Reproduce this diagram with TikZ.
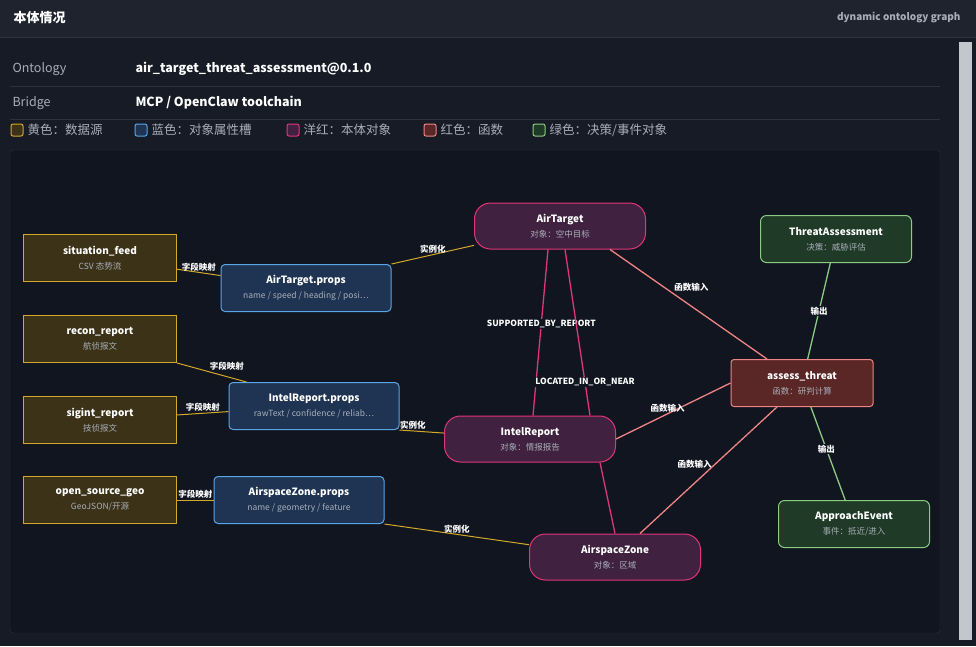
\documentclass[tikz,border=0pt]{standalone}
\usepackage{fontspec}
\setmainfont{Noto Sans CJK SC}
\usetikzlibrary{positioning}
\definecolor{barbg}{HTML}{1F232E}
\definecolor{bodybg}{HTML}{161B25}
\definecolor{canvasbg}{HTML}{10151F}
\definecolor{rulec}{HTML}{2C3240}
\definecolor{txtgray}{HTML}{A8AEB8}
\definecolor{ylwfill}{HTML}{3B3218}
\definecolor{ylwline}{HTML}{D4A82A}
\definecolor{blufill}{HTML}{1F3452}
\definecolor{bluline}{HTML}{5AA5E6}
\definecolor{magfill}{HTML}{40213F}
\definecolor{magline}{HTML}{E0357A}
\definecolor{redfill}{HTML}{5A2626}
\definecolor{redline}{HTML}{F08484}
\definecolor{grnfill}{HTML}{1F3A27}
\definecolor{grnline}{HTML}{8CCB84}
\tikzset{
  box/.style={draw, line width=1pt, minimum height=47pt, align=center, inner sep=0pt, font=\fontsize{10}{14}\selectfont\bfseries, text=white},
  srcbox/.style={box, fill=ylwfill, draw=ylwline, minimum width=153pt},
  propbox/.style={box, fill=blufill, draw=bluline, minimum width=170pt, rounded corners=4pt},
  objbox/.style={box, fill=magfill, draw=magline, minimum width=171pt, minimum height=46pt, rounded corners=16pt},
  fnbox/.style={box, fill=redfill, draw=redline, minimum width=142pt, rounded corners=3pt},
  decbox/.style={box, fill=grnfill, draw=grnline, minimum width=151pt, rounded corners=6pt},
  lbl/.style={font=\fontsize{8.5}{10}\selectfont\bfseries, text=white, inner sep=1pt},
  legtxt/.style={text=txtgray, font=\fontsize{12.5}{14}\selectfont, inner sep=1pt},
  yedge/.style={draw=ylwline, line width=1pt},
  medge/.style={draw=magline, line width=1.3pt},
  redge/.style={draw=redline, line width=1.3pt},
  gedge/.style={draw=grnline, line width=1.3pt},
  legsq/.style={draw, line width=1pt, rounded corners=2pt, minimum width=12pt, minimum height=12pt, inner sep=0pt}
}
\newcommand{\subline}[1]{\textcolor{txtgray}{\mdseries\fontsize{8.5}{10}\selectfont #1}}
\begin{document}
\begin{tikzpicture}[x=1pt,y=-1pt]
	% Frame
	\useasboundingbox (0,0) rectangle (976,646);
	\fill[bodybg] (0,0) rectangle (976,646);
	\fill[barbg] (0,0) rectangle (976,37);
	\draw[rulec] (0,37) -- (976,37);
	\fill[txtgray!70] (959,42) rectangle (972,640);
	\node[anchor=west, text=white, font=\fontsize{13}{15}\selectfont\bfseries] (title) at (10,18) {本体情况};
	\node[anchor=east, text=txtgray, font=\fontsize{10}{12}\selectfont\bfseries] (subtitle) at (964,18) {dynamic ontology graph};
	% Info rows
	\node[anchor=west, text=txtgray, font=\fontsize{12.5}{14}\selectfont] (ontk) at (9,69) {Ontology};
	\node[anchor=west, text=white, font=\fontsize{12.5}{14}\selectfont\bfseries] (ontv) at (132,69) {air\_target\_threat\_assessment@0.1.0};
	\draw[rulec] (10,86) -- (940,86);
	\node[anchor=west, text=txtgray, font=\fontsize{12.5}{14}\selectfont] (brk) at (9,103) {Bridge};
	\node[anchor=west, text=white, font=\fontsize{12.5}{14}\selectfont\bfseries] (brv) at (132,103) {MCP / OpenClaw toolchain};
	\draw[rulec] (10,119) -- (940,119);
	% Legend
	\node[legsq, fill=ylwfill, draw=ylwline] (lg1) at (17,130) {};
	\node[legtxt, right=3pt of lg1] (lt1) {黄色：数据源};
	\node[legsq, fill=blufill, draw=bluline] (lg2) at (141,130) {};
	\node[legtxt, right=3pt of lg2] (lt2) {蓝色：对象属性槽};
	\node[legsq, fill=magfill, draw=magline] (lg3) at (293,130) {};
	\node[legtxt, right=3pt of lg3] (lt3) {洋红：本体对象};
	\node[legsq, fill=redfill, draw=redline] (lg4) at (430,130) {};
	\node[legtxt, right=3pt of lg4] (lt4) {红色：函数};
	\node[legsq, fill=grnfill, draw=grnline] (lg5) at (539,130) {};
	\node[legtxt, right=3pt of lg5] (lt5) {绿色：决策/事件对象};
	% Canvas
	\filldraw[fill=canvasbg, draw=rulec, rounded corners=3pt] (10,150) rectangle (940,633);
	% Sources
	\node[srcbox] (feed) at (100,258) {situation\_feed\\[1pt]\subline{CSV 态势流}};
	\node[srcbox] (recon) at (100,339) {recon\_report\\[1pt]\subline{航侦报文}};
	\node[srcbox] (sigint) at (100,420) {sigint\_report\\[1pt]\subline{技侦报文}};
	\node[srcbox] (osgeo) at (100,500) {open\_source\_geo\\[1pt]\subline{GeoJSON/开源}};
	% Property slots
	\node[propbox] (atprops) at (306,288) {AirTarget.props\\[1pt]\subline{name / speed / heading / posi…}};
	\node[propbox] (irprops) at (314,406) {IntelReport.props\\[1pt]\subline{rawText / confidence / reliab…}};
	\node[propbox] (azprops) at (299,500) {AirspaceZone.props\\[1pt]\subline{name / geometry / feature}};
	% Objects
	\node[objbox] (airtarget) at (560,226) {AirTarget\\[1pt]\subline{对象：空中目标}};
	\node[objbox] (intel) at (530,439) {IntelReport\\[1pt]\subline{对象：情报报告}};
	\node[objbox] (zone) at (615,557) {AirspaceZone\\[1pt]\subline{对象：区域}};
	% Function and decisions
	\node[fnbox] (assess) at (802,383) {assess\_threat\\[1pt]\subline{函数：研判计算}};
	\node[decbox] (threat) at (836,239) {ThreatAssessment\\[1pt]\subline{决策：威胁评估}};
	\node[decbox] (approach) at (854,524) {ApproachEvent\\[1pt]\subline{事件：抵近/进入}};
	% Field mappings
	\path[yedge] (feed) -- (atprops) node[lbl, pos=0.5, above] {字段映射};
	\path[yedge] (recon.south east) -- ([xshift=18pt]irprops.north west) node[lbl, pos=0.45, above right] {字段映射};
	\path[yedge] (sigint) -- (irprops) node[lbl, pos=0.5, above] {字段映射};
	\path[yedge] (osgeo) -- (azprops) node[lbl, pos=0.5, above] {字段映射};
	% Instantiation
	\path[yedge] (atprops.north east) -- (airtarget) node[lbl, pos=0.5, above] {实例化};
	\path[yedge] (irprops.south east) -- (intel) node[lbl, pos=0.3, above] {实例化};
	\path[yedge] (azprops.south east) -- (zone) node[lbl, pos=0.5, above] {实例化};
	% Relations
	\path[medge] ([xshift=-12pt]airtarget.south) -- ([xshift=3pt]intel.north) node[lbl, pos=0.45, fill=canvasbg] {SUPPORTED\_BY\_REPORT};
	\path[medge] ([xshift=5pt]airtarget.south) -- ([xshift=60pt]intel.north) node[lbl, pos=0.8, fill=canvasbg] {LOCATED\_IN\_OR\_NEAR};
	\path[medge] ([xshift=70pt]intel.south) -- (zone.north);
	% Function inputs
	\path[redge] ([xshift=50pt]airtarget.south) -- ([xshift=-35pt]assess.north) node[lbl, pos=0.4, above right] {函数输入};
	\path[redge] (intel.east) -- (assess.west) node[lbl, pos=0.45, above] {函数输入};
	\path[redge] ([xshift=25pt]zone.north) -- ([xshift=-25pt]assess.south) node[lbl, pos=0.55, left=2pt] {函数输入};
	% Outputs
	\path[gedge] (threat) -- (assess) node[lbl, pos=0.5, fill=canvasbg] {输出};
	\path[gedge] (assess) -- (approach) node[lbl, pos=0.45, fill=canvasbg] {输出};
\end{tikzpicture}
\end{document}
